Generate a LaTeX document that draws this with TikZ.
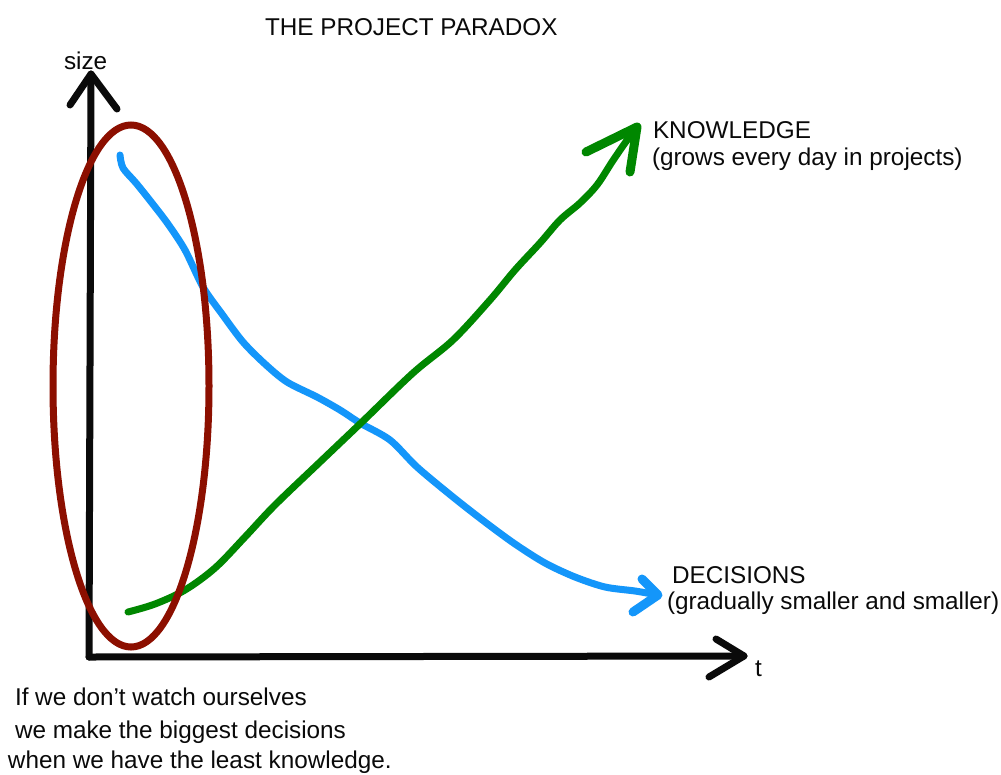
\documentclass[tikz,border=0pt]{standalone}
\usepackage{fontspec}
\setmainfont{Liberation Sans}
\definecolor{decblue}{RGB}{20,150,250}
\definecolor{knowgreen}{RGB}{0,135,0}
\definecolor{ovalred}{RGB}{140,15,0}
\definecolor{inkblack}{RGB}{10,10,10}
\tikzset{
  lbl/.style={inner sep=0pt, outer sep=0pt, text=inkblack, font=\fontsize{24.3}{28}\selectfont},
  axisline/.style={line width=7pt, inkblack, line cap=round, line join=round},
  chevron/.style={line width=9pt, line cap=round, line join=round},
  curve/.style={line width=7pt, line cap=round, line join=round},
}
\begin{document}
\begin{tikzpicture}[x=1pt,y=-1pt]
\useasboundingbox[fill=white] (0,0) rectangle (1001,774);
% coordinates
\coordinate (origin) at (89,657);
\coordinate (ytip) at (91,74);
\coordinate (xtip) at (744,656);
\coordinate (kstart) at (128,612);
\coordinate (ktip) at (637,127);
\coordinate (dstart) at (120,155);
\coordinate (dtip) at (658,595);
% axes
\draw[axisline] (origin) -- (ytip);
\draw[axisline] (70,105) -- (ytip) -- (117,109);
\draw[axisline] (origin) -- (xtip);
\draw[axisline] (716,639) -- (xtip) -- (709,677);
% decisions curve (blue)
\draw[curve, decblue] plot[smooth, tension=0.5] coordinates {
 (120,155) (123,168) (136,183) (152,203) (168,224) (185,250) (203,287)
 (222,314) (243,342) (265,364) (287,382) (317,397) (340,410) (360,423)
 (390,440) (417,467) (453,497) (485,522) (515,544) (545,563) (575,577)
 (605,587) (635,591) (658,595)};
\draw[chevron, decblue] (642,579) -- (dtip) -- (633,612);
% knowledge curve (green)
\draw[curve, knowgreen] plot[smooth, tension=0.55] coordinates {
 (128,612) (155,604) (185,590) (215,568) (245,537) (275,505)
 (320,462) (362,422) (413,373) (453,340) (490,300) (515,270) (540,243)
 (560,220) (580,203) (597,185) (612,162) (625,143) (637,127)};
\draw[chevron, knowgreen] (586,152) -- (ktip) -- (630,172);
% oval
\draw[line width=7pt, ovalred] (131,386) ellipse [x radius=78, y radius=261];
% labels
\node[lbl, anchor=base west] (title) at (265,35) {THE PROJECT PARADOX};
\node[lbl, anchor=base west] (size) at (64,69) {size};
\node[lbl, anchor=base west] (tlab) at (755,676) {t};
\node[lbl, anchor=base west] (know1) at (653,138) {KNOWLEDGE};
\node[lbl, anchor=base west] (know2) at (652,165) {(grows every day in projects)};
\node[lbl, anchor=base west] (dec1) at (672,583) {DECISIONS};
\node[lbl, anchor=base west] (dec2) at (667,609) {(gradually smaller and smaller)};
\node[lbl, anchor=base west] (bot1) at (15,705) {If we don't watch ourselves};
\node[lbl, anchor=base west] (bot2) at (15,738) {we make the biggest decisions};
\node[lbl, anchor=base west] (bot3) at (8,768) {when we have the least knowledge.};
\end{tikzpicture}
\end{document}
